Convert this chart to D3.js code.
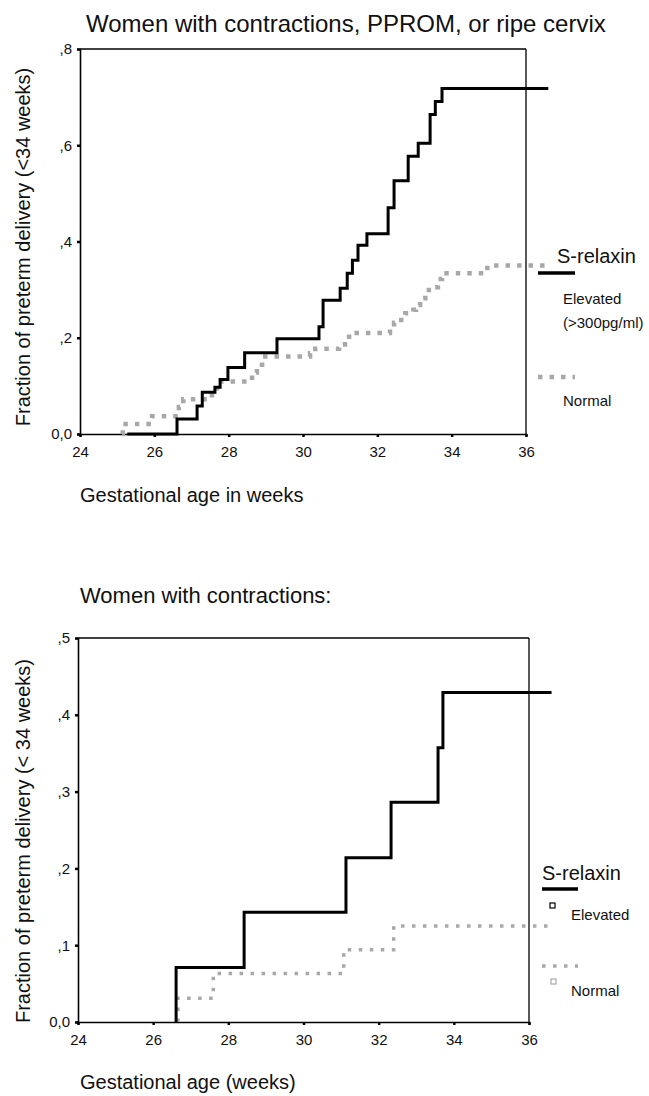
<!DOCTYPE html>
<html>
<head>
<meta charset="utf-8">
<script src="https://cdn.jsdelivr.net/npm/d3@7"></script>
<style>
  html, body { margin: 0; padding: 0; background: #fff; }
  svg { display: block; font-family: "Liberation Sans", Arial, sans-serif; }
</style>
</head>
<body>
<svg id="chart" width="649" height="1096"></svg>
<script>
// ---------- data ----------
const xTicks = [24, 26, 28, 30, 32, 34, 36];
const yTicksA = [0, 0.2, 0.4, 0.6, 0.8];
const yTickLabelsA = ["0,0", ",2", ",4", ",6", ",8"];
const yTicksB = [0, 0.1, 0.2, 0.3, 0.4, 0.5];
const yTickLabelsB = ["0,0", ",1", ",2", ",3", ",4", ",5"];

// Panel A: women with contractions, PPROM, or ripe cervix
const elevWeeksA = [25.27, 26.61, 27.15, 27.29, 27.63, 27.77, 27.98, 28.43, 29.3, 30.43, 30.54, 31.0, 31.19, 31.33, 31.48, 31.72, 32.29, 32.45, 32.83, 33.1, 33.42, 33.56, 33.74, 36.6];
const elevFracA  = [0, 0.031, 0.058, 0.087, 0.097, 0.113, 0.138, 0.169, 0.198, 0.223, 0.278, 0.303, 0.334, 0.361, 0.392, 0.416, 0.47, 0.526, 0.577, 0.604, 0.664, 0.691, 0.718, 0.718];
const normWeeksA = [25.13, 25.15, 25.94, 26.66, 26.78, 27.55, 27.68, 28.63, 28.76, 28.9, 30.19, 30.33, 30.97, 31.13, 31.24, 32.34, 32.45, 32.56, 32.75, 32.97, 33.04, 33.15, 33.29, 33.5, 33.63, 33.74, 34.96, 36.57];
const normFracA  = [0, 0.021, 0.037, 0.056, 0.072, 0.089, 0.109, 0.128, 0.144, 0.161, 0.168, 0.177, 0.186, 0.196, 0.21, 0.22, 0.231, 0.237, 0.251, 0.258, 0.268, 0.282, 0.299, 0.305, 0.322, 0.334, 0.35, 0.35];

// Panel B: women with contractions
const elevWeeksB = [26.61, 26.61, 28.42, 31.13, 32.33, 33.58, 33.71, 36.6];
const elevFracB  = [0, 0.071, 0.143, 0.214, 0.286, 0.357, 0.429, 0.429];
const normWeeksB = [26.66, 26.66, 27.6, 31.07, 32.4, 36.6];
const normFracB  = [0, 0.031, 0.063, 0.094, 0.125, 0.125];

// ---------- drawing ----------
const svg = d3.select("#chart");
const GRAY = "#a8a8a8";

function panel(cfg) {
  const x = d3.scaleLinear().domain([24, 36]).range([cfg.left, cfg.right]);
  const y = d3.scaleLinear().domain(cfg.yDomain).range([cfg.bottom, cfg.top]);
  const g = svg.append("g");

  // title
  g.append("text").attr("x", cfg.titleX).attr("y", cfg.titleY)
    .attr("font-size", cfg.titleSize).attr("fill", "#111").text(cfg.title);

  // frame (top + right)
  g.append("line").attr("x1", cfg.left).attr("x2", cfg.right).attr("y1", cfg.top).attr("y2", cfg.top)
    .attr("stroke", "#000").attr("stroke-width", 1.3);
  g.append("line").attr("x1", cfg.right).attr("x2", cfg.right).attr("y1", cfg.top).attr("y2", cfg.bottom)
    .attr("stroke", "#000").attr("stroke-width", 1.3);

  // x axis
  const xa = g.append("g").attr("transform", `translate(0,${cfg.bottom})`)
    .call(d3.axisBottom(x).tickValues(xTicks).tickSize(3).tickPadding(9).tickFormat(d3.format("d")));
  xa.select(".domain").attr("stroke", "#000").attr("stroke-width", 1.6);
  xa.selectAll(".tick line").attr("stroke", "#000").attr("stroke-width", 2.5);
  xa.selectAll("text").attr("font-size", 15).attr("fill", "#111").attr("font-family", "Liberation Sans, Arial, sans-serif");

  // y axis
  const ya = g.append("g").attr("transform", `translate(${cfg.left},0)`)
    .call(d3.axisLeft(y).tickValues(cfg.yTicks).tickSize(3).tickPadding(5)
      .tickFormat((d, i) => cfg.yLabels[i]));
  ya.select(".domain").attr("stroke", "#000").attr("stroke-width", 1.6);
  ya.selectAll(".tick line").attr("stroke", "#000").attr("stroke-width", 2.5);
  ya.selectAll("text").attr("font-size", 15).attr("fill", "#111").attr("font-family", "Liberation Sans, Arial, sans-serif");

  // axis titles
  g.append("text").attr("transform", `translate(${cfg.yTitleX},${cfg.yTitleY}) rotate(-90)`)
    .attr("text-anchor", "middle").attr("font-size", 20).attr("fill", "#111").text(cfg.yTitle);
  g.append("text").attr("x", cfg.xTitleX).attr("y", cfg.xTitleY)
    .attr("font-size", 20).attr("fill", "#111").text(cfg.xTitle);

  const line = d3.line().curve(d3.curveStepAfter).x(d => x(d[0])).y(d => y(d[1]));

  // normal (gray dotted)
  g.append("path").datum(d3.zip(cfg.normWeeks, cfg.normFrac)).attr("d", line)
    .attr("fill", "none").attr("stroke", GRAY).attr("stroke-width", cfg.dotW)
    .attr("stroke-dasharray", cfg.dash);
  // elevated (black)
  g.append("path").datum(d3.zip(cfg.elevWeeks, cfg.elevFrac)).attr("d", line)
    .attr("fill", "none").attr("stroke", "#000").attr("stroke-width", 3);

  // legend
  const L = cfg.legend;
  g.append("text").attr("x", L.titleX).attr("y", L.titleY).attr("font-size", 20).attr("fill", "#111").text("S-relaxin");
  g.append("line").attr("x1", L.lineX1).attr("x2", L.lineX2).attr("y1", L.blackY).attr("y2", L.blackY)
    .attr("stroke", "#000").attr("stroke-width", 3.5);
  g.append("line").attr("x1", L.lineX1).attr("x2", L.lineX2).attr("y1", L.grayY).attr("y2", L.grayY)
    .attr("stroke", GRAY).attr("stroke-width", cfg.dotW).attr("stroke-dasharray", cfg.dash);
  L.items.forEach(it => {
    g.append("text").attr("x", L.textX).attr("y", it.y).attr("font-size", 15).attr("fill", "#111").text(it.t);
  });
  (L.squares || []).forEach(s => {
    g.append("rect").attr("x", s.x).attr("y", s.y).attr("width", 5).attr("height", 5)
      .attr("fill", "none").attr("stroke", s.c).attr("stroke-width", 1.2);
  });
}

panel({
  left: 80, right: 526, top: 49, bottom: 434, yDomain: [0, 0.8],
  yTicks: yTicksA, yLabels: yTickLabelsA,
  title: "Women with contractions, PPROM, or ripe cervix", titleX: 86, titleY: 32, titleSize: 24,
  yTitle: "Fraction of preterm delivery (<34 weeks)", yTitleX: 30, yTitleY: 247,
  xTitle: "Gestational age in weeks", xTitleX: 80, xTitleY: 502,
  elevWeeks: elevWeeksA, elevFrac: elevFracA, normWeeks: normWeeksA, normFrac: normFracA,
  dotW: 4.5, dash: "4.5,7",
  legend: { titleX: 557, titleY: 263, lineX1: 538, lineX2: 575, blackY: 273, grayY: 377, textX: 563,
    items: [{ t: "Elevated", y: 304 }, { t: "(>300pg/ml)", y: 328 }, { t: "Normal", y: 406 }] }
});

panel({
  left: 78, right: 529, top: 638, bottom: 1022, yDomain: [0, 0.5],
  yTicks: yTicksB, yLabels: yTickLabelsB,
  title: "Women with contractions:", titleX: 80, titleY: 603, titleSize: 22,
  yTitle: "Fraction of preterm delivery (< 34 weeks)", yTitleX: 30, yTitleY: 841,
  xTitle: "Gestational age (weeks)", xTitleX: 80, xTitleY: 1089,
  elevWeeks: elevWeeksB, elevFrac: elevFracB, normWeeks: normWeeksB, normFrac: normFracB,
  dotW: 3.5, dash: "3.5,7.5",
  legend: { titleX: 542, titleY: 880, lineX1: 542, lineX2: 578, blackY: 889, grayY: 966, textX: 571,
    items: [{ t: "Elevated", y: 920 }, { t: "Normal", y: 996 }],
    squares: [{ x: 550, y: 903, c: "#000" }, { x: 551, y: 979, c: GRAY }] }
});
</script>
</body>
</html>
